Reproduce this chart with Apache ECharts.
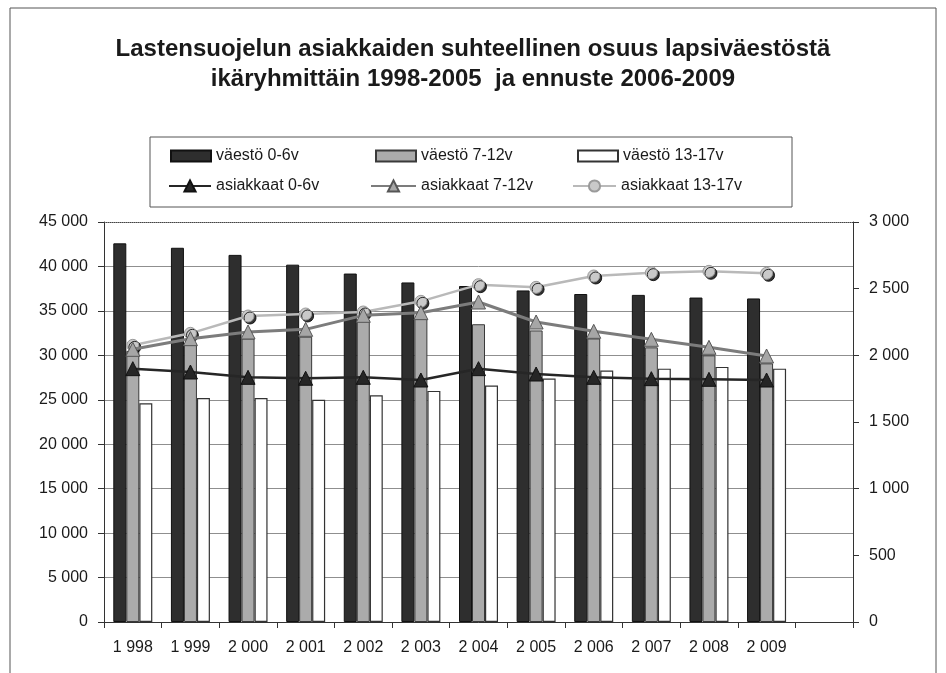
<!DOCTYPE html>
<html>
<head>
<meta charset="utf-8">
<script src="https://cdn.jsdelivr.net/npm/echarts@6/dist/echarts.min.js"></script>
<style>
  html, body { margin: 0; padding: 0; background: #fff; }
  #chart { width: 946px; height: 673px; }
</style>
</head>
<body>
<div id="chart"></div>
<script>
// vuodet (viimeinen paikka tyhjä kuten alkuperäisessä)
const years = ["1 998", "1 999", "2 000", "2 001", "2 002", "2 003", "2 004", "2 005", "2 006", "2 007", "2 008", "2 009", ""];

// väestö (vasen akseli)
const vaesto06 = [42600, 42100, 41300, 40200, 39200, 38200, 37800, 37300, 36900, 36800, 36500, 36400];
const vaesto712 = [30500, 31300, 31900, 32100, 34000, 34100, 33500, 32800, 31900, 30900, 30000, 29100];
const vaesto1317 = [24600, 25200, 25200, 25000, 25500, 26000, 26600, 27400, 28300, 28500, 28700, 28500];

// asiakkaat (oikea akseli)
const asiakkaat06 = [1900, 1875, 1835, 1828, 1835, 1815, 1900, 1860, 1835, 1825, 1820, 1815];
const asiakkaat712 = [2045, 2125, 2175, 2195, 2300, 2320, 2400, 2250, 2180, 2120, 2060, 1995];
const asiakkaat1317 = [2075, 2165, 2295, 2310, 2325, 2405, 2530, 2510, 2595, 2620, 2630, 2615];

const topLine = [45000];

const FONT = "Liberation Sans, Arial, sans-serif";
const TXT = "#1a1a1a";

function spaced(v) {
  return String(v).replace(/\B(?=(\d{3})+(?!\d))/g, " ");
}

function legendAt(name, left, top, w, h, icon) {
  const l = {
    data: [name],
    left: left,
    top: top,
    orient: "horizontal",
    itemWidth: w,
    itemHeight: h,
    padding: 0,
    textStyle: { color: TXT, fontSize: 16, fontFamily: FONT },
  };
  if (icon) l.icon = icon;
  return l;
}

const chart = echarts.init(document.getElementById("chart"), null, { renderer: "canvas" });

chart.setOption({
  backgroundColor: "#fff",
  animation: false,
  title: {
    text: "Lastensuojelun asiakkaiden suhteellinen osuus lapsiväestöstä\nikäryhmittäin 1998-2005  ja ennuste 2006-2009",
    left: "center",
    top: 29,
    textStyle: {
      color: TXT,
      fontSize: 24,
      fontWeight: "bold",
      fontFamily: FONT,
      lineHeight: 30,
    },
  },
  graphic: [
    {
      type: "rect",
      shape: { x: 10, y: 8, width: 926, height: 680 },
      style: { fill: "none", stroke: "#555", lineWidth: 1 },
      silent: true,
    },
    {
      type: "rect",
      shape: { x: 150, y: 137, width: 642, height: 70 },
      style: { fill: "none", stroke: "#555", lineWidth: 1 },
      silent: true,
    },
  ],
  legend: [
    legendAt("väestö 0-6v", 170, 148, 40, 11, "rect"),
    legendAt("väestö 7-12v", 375, 148, 40, 11, "rect"),
    legendAt("väestö 13-17v", 577, 148, 40, 11, "rect"),
    legendAt("asiakkaat 0-6v", 168, 178, 42, 14),
    legendAt("asiakkaat 7-12v", 370, 178, 45, 14),
    legendAt("asiakkaat 13-17v", 572, 178, 43, 14),
  ],
  grid: {
    left: 104,
    right: 93,
    top: 222,
    bottom: 51,
  },
  xAxis: {
    type: "category",
    data: years,
    boundaryGap: true,
    axisLine: { lineStyle: { color: "#333", width: 1 } },
    axisTick: { show: true, length: 6, lineStyle: { color: "#333" } },
    axisLabel: { color: TXT, fontSize: 16, fontFamily: FONT, margin: 18, interval: 0 },
  },
  yAxis: [
    {
      type: "value",
      min: 0,
      max: 45000,
      interval: 5000,
      axisLine: { show: true, lineStyle: { color: "#333" } },
      axisTick: { show: true, length: 6, lineStyle: { color: "#333" } },
      axisLabel: { color: TXT, fontSize: 16, fontFamily: FONT, margin: 16, formatter: spaced },
      splitLine: { show: true, lineStyle: { color: "#8f8f8f", width: 1 } },
    },
    {
      type: "value",
      min: 0,
      max: 3000,
      interval: 500,
      position: "right",
      axisLine: { show: true, lineStyle: { color: "#333" } },
      axisTick: { show: true, length: 6, lineStyle: { color: "#333" } },
      axisLabel: { color: TXT, fontSize: 16, fontFamily: FONT, margin: 16, formatter: spaced },
      splitLine: { show: false },
    },
  ],
  series: [
    {
      name: "väestö 0-6v",
      type: "bar",
      data: vaesto06,
      barWidth: 13,
      barGap: "0%",
      itemStyle: { color: "#2e2e2e", borderColor: "#111", borderWidth: 1 },
      markLine: {
        silent: true,
        symbol: "none",
        label: { show: false },
        lineStyle: { color: "#444", type: "dotted", width: 1 },
        data: topLine.map((v) => ({ yAxis: v })),
      },
    },
    {
      name: "väestö 7-12v",
      type: "bar",
      data: vaesto712,
      barWidth: 13,
      barGap: "0%",
      itemStyle: { color: "#ababab", borderColor: "#3a3a3a", borderWidth: 1 },
    },
    {
      name: "väestö 13-17v",
      type: "bar",
      data: vaesto1317,
      barWidth: 13,
      barGap: "0%",
      itemStyle: { color: "#fff", borderColor: "#333", borderWidth: 1.2 },
    },
    {
      name: "asiakkaat 0-6v",
      type: "line",
      yAxisIndex: 1,
      data: asiakkaat06,
      symbol: "triangle",
      symbolSize: 14,
      z: 5,
      lineStyle: { color: "#262626", width: 2.5 },
      itemStyle: { color: "#262626", borderColor: "#111", borderWidth: 1 },
    },
    {
      name: "asiakkaat 7-12v",
      type: "line",
      yAxisIndex: 1,
      data: asiakkaat712,
      symbol: "triangle",
      symbolSize: 14,
      z: 4,
      lineStyle: { color: "#7c7c7c", width: 3 },
      itemStyle: {
        color: "#a6a6a6",
        borderColor: "#555",
        borderWidth: 1,
      },
    },
    {
      name: "asiakkaat 13-17v",
      type: "line",
      yAxisIndex: 1,
      data: asiakkaat1317,
      symbol: "circle",
      symbolSize: 12,
      z: 3,
      lineStyle: { color: "#b9b9b9", width: 2.5 },
      itemStyle: {
        color: "#c9c9c9",
        borderColor: "#9a9a9a",
        borderWidth: 1,
        shadowColor: "rgba(0,0,0,0.8)",
        shadowOffsetX: 2,
        shadowOffsetY: 2,
        shadowBlur: 0,
      },
    },
  ],
});
</script>
</body>
</html>
